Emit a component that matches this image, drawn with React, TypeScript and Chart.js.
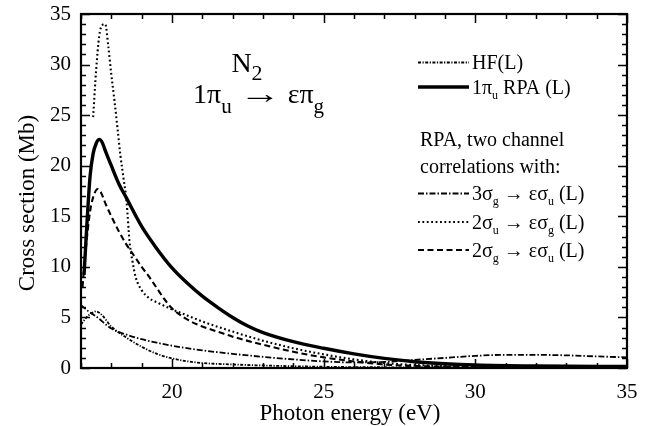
import React, { useEffect, useRef } from "react";
import { Chart, registerables } from "chart.js";

Chart.register(...registerables);

// ---- Data (photon energy in eV, cross section in Mb) ----
const hfE = [17.0, 17.1, 17.25, 17.4, 17.5, 17.7, 18.0, 18.5, 19.0, 19.5, 20.0, 20.8, 22.0, 23.0, 25.0, 28.0, 31.0, 35.0];
const hfV = [4.3, 4.7, 5.2, 5.5, 5.6, 5.2, 4.1, 3.0, 2.1, 1.4, 0.95, 0.55, 0.35, 0.25, 0.12, 0.06, 0.04, 0.03];

const rpaE = [17.1, 17.2, 17.3, 17.4, 17.5, 17.6, 17.7, 17.8, 18.0, 18.25, 18.5, 19.0, 19.5, 20.0, 20.5, 21.0, 21.5, 22.0, 22.5, 23.0, 24.0, 25.0, 26.0, 27.0, 28.0, 29.0, 30.0, 32.0, 35.0];
const rpaV = [9.2, 14.5, 19.0, 21.2, 22.2, 22.6, 22.3, 21.5, 20.0, 18.2, 16.8, 14.0, 11.8, 9.9, 8.4, 7.1, 6.0, 5.0, 4.15, 3.5, 2.6, 1.95, 1.4, 0.95, 0.62, 0.42, 0.3, 0.2, 0.15];

const s3gE = [17.0, 17.25, 17.5, 18.0, 18.5, 19.0, 19.5, 20.0, 21.0, 22.0, 23.0, 24.0, 25.0, 26.0, 27.0, 28.0, 29.0, 30.0, 31.0, 32.0, 33.0, 34.0, 35.0];
const s3gV = [6.2, 5.6, 5.1, 3.9, 3.3, 2.85, 2.5, 2.2, 1.75, 1.4, 1.1, 0.85, 0.65, 0.55, 0.6, 0.8, 1.0, 1.2, 1.3, 1.3, 1.25, 1.15, 1.05];

const s2uE = [17.4, 17.5, 17.6, 17.7, 17.8, 17.9, 18.0, 18.1, 18.2, 18.3, 18.4, 18.5, 18.6, 18.7, 18.8, 19.0, 19.25, 19.5, 20.0, 20.5, 21.0, 22.0, 23.0, 24.0, 25.0, 26.0, 27.0, 28.0, 30.0, 35.0];
const s2uV = [24.8, 29.5, 32.8, 33.9, 34.0, 31.8, 29.0, 26.5, 23.8, 21.0, 18.8, 16.5, 12.5, 10.5, 9.0, 7.7, 6.9, 6.5, 5.8, 5.2, 4.6, 3.6, 2.7, 1.95, 1.35, 0.85, 0.5, 0.3, 0.15, 0.1];

const s2gE = [17.05, 17.15, 17.3, 17.45, 17.55, 17.65, 17.8, 18.0, 18.25, 18.5, 18.75, 19.0, 19.25, 19.5, 19.75, 20.0, 20.5, 21.0, 21.5, 22.0, 23.0, 24.0, 25.0, 26.0, 27.0, 28.0, 30.0, 35.0];
const s2gV = [8.0, 11.5, 15.5, 17.3, 17.7, 17.4, 16.3, 15.0, 13.5, 12.2, 11.1, 10.0, 9.0, 7.9, 6.8, 5.9, 4.8, 4.1, 3.6, 3.1, 2.3, 1.6, 1.05, 0.65, 0.35, 0.2, 0.1, 0.05];

const xTickLabels = [20, 25, 30, 35];
const yTickLabels = [0, 5, 10, 15, 20, 25, 30, 35];
const xTitle = "Photon energy (eV)";
const yTitle = "Cross section (Mb)";

type Seg = { t: string; sub?: boolean; stretch?: number };
const legendTexts: Seg[][] = [
  [{ t: "HF(L)" }],
  [{ t: "1π" }, { t: "u", sub: true }, { t: " RPA (L)" }],
  [{ t: "3σ" }, { t: "g", sub: true }, { t: " → εσ" }, { t: "u", sub: true }, { t: " (L)" }],
  [{ t: "2σ" }, { t: "u", sub: true }, { t: " → εσ" }, { t: "g", sub: true }, { t: " (L)" }],
  [{ t: "2σ" }, { t: "g", sub: true }, { t: " → εσ" }, { t: "u", sub: true }, { t: " (L)" }],
];
const legendNote = ["RPA, two channel", "correlations with:"];
const titleLine1: Seg[] = [{ t: "N" }, { t: "2", sub: true }];
const titleLine2: Seg[] = [{ t: "1π" }, { t: "u", sub: true }, { t: " " }, { t: "→", stretch: 1.5 }, { t: " επ" }, { t: "g", sub: true }];

const FONT = '"Liberation Serif", "Times New Roman", serif';

const styles = [
  { width: 1.8, dash: [3, 1.5, 1.2, 1.5] }, // HF
  { width: 3.4, dash: [] as number[] }, // RPA
  { width: 1.8, dash: [6, 2, 1.5, 2] }, // 3sg
  { width: 2.1, dash: [1.8, 2.6] }, // 2su
  { width: 2.1, dash: [6, 3.5] }, // 2sg
];

function pts(e: number[], v: number[]) {
  return e.map((x, i) => ({ x, y: v[i] }));
}

function segW(ctx: CanvasRenderingContext2D, s: Seg, size: number, subSize: number) {
  ctx.font = `${s.sub ? subSize : size}px ${FONT}`;
  return ctx.measureText(s.t).width * (s.stretch || 1);
}

function segWidth(ctx: CanvasRenderingContext2D, segs: Seg[], size: number, subSize: number) {
  let w = 0;
  for (const s of segs) w += segW(ctx, s, size, subSize);
  return w;
}

function drawSegs(ctx: CanvasRenderingContext2D, segs: Seg[], x: number, y: number, size: number, subSize: number, subDy: number) {
  let cx = x;
  for (const s of segs) {
    const w = segW(ctx, s, size, subSize);
    if (s.stretch) {
      ctx.save();
      ctx.translate(cx, y);
      ctx.scale(s.stretch, 1);
      ctx.fillText(s.t, 0, 0);
      ctx.restore();
    } else {
      ctx.fillText(s.t, cx, s.sub ? y + subDy : y);
    }
    cx += w;
  }
}

export default function App() {
  const ref = useRef<HTMLCanvasElement | null>(null);
  useEffect(() => {
    if (!ref.current) return;
    const decor = {
      id: "decor",
      afterDraw(chart: any) {
        const { ctx, chartArea } = chart;
        const { left, right, top, bottom } = chartArea;
        const xs = chart.scales.x;
        const ys = chart.scales.y;
        ctx.save();
        ctx.strokeStyle = "#000";
        ctx.lineWidth = 1.5;
        ctx.beginPath();
        for (let v = 17; v <= 35; v++) {
          const px = Math.round(xs.getPixelForValue(v)) + 0.5;
          const len = v % 5 === 0 ? 9 : 5;
          ctx.moveTo(px, bottom);
          ctx.lineTo(px, bottom - len);
          ctx.moveTo(px, top);
          ctx.lineTo(px, top + len);
        }
        for (let v = 0; v <= 35; v++) {
          const py = Math.round(ys.getPixelForValue(v)) + 0.5;
          const len = v % 5 === 0 ? 9 : 5;
          ctx.moveTo(left, py);
          ctx.lineTo(left + len, py);
          ctx.moveTo(right, py);
          ctx.lineTo(right - len, py);
        }
        ctx.stroke();
        ctx.lineWidth = 2.2;
        ctx.strokeRect(left, top, right - left, bottom - top);

        ctx.fillStyle = "#000";
        // tick labels
        ctx.font = `21px ${FONT}`;
        ctx.textAlign = "center";
        ctx.textBaseline = "middle";
        for (const v of xTickLabels) {
          ctx.fillText(String(v), xs.getPixelForValue(v), bottom + 24);
        }
        ctx.textAlign = "right";
        for (const v of yTickLabels) {
          ctx.fillText(String(v), left - 10, ys.getPixelForValue(v));
        }
        // axis titles
        ctx.font = `23px ${FONT}`;
        ctx.textAlign = "center";
        ctx.fillText(xTitle, 350, 414);
        ctx.save();
        ctx.translate(28, 203);
        ctx.rotate(-Math.PI / 2);
        ctx.fillText(yTitle, 0, 0);
        ctx.restore();
        ctx.textAlign = "left";
        ctx.textBaseline = "alphabetic";

        // title
        const w1 = segWidth(ctx, titleLine1, 28, 22);
        drawSegs(ctx, titleLine1, 247 - w1 / 2, 72, 28, 22, 8);
        drawSegs(ctx, titleLine2, 193, 103, 28, 21, 10);

        // legend
        const lineX0 = 418;
        const lineX1 = 469;
        const textX = 472;
        const rows = [62.5, 87, 193.5, 222, 250];
        for (let i = 0; i < 5; i++) {
          const st = styles[i];
          ctx.lineWidth = st.width;
          ctx.setLineDash(st.dash);
          ctx.beginPath();
          ctx.moveTo(lineX0, rows[i]);
          ctx.lineTo(lineX1, rows[i]);
          ctx.stroke();
          ctx.setLineDash([]);
          drawSegs(ctx, legendTexts[i], textX, rows[i] + 6.5, 20, 12, 5);
        }
        ctx.font = `20px ${FONT}`;
        ctx.fillText(legendNote[0], 420, 146);
        ctx.fillText(legendNote[1], 420, 173);
        ctx.restore();
      },
    };

    const mk = (label: string, e: number[], v: number[], i: number) => ({
      label,
      data: pts(e, v),
      borderColor: "#000",
      backgroundColor: "#000",
      borderWidth: styles[i].width,
      borderDash: styles[i].dash,
      pointRadius: 0,
      fill: false,
      cubicInterpolationMode: "monotone" as const,
    });

    const chart = new Chart(ref.current, {
      type: "line",
      data: {
        datasets: [
          mk("HF(L)", hfE, hfV, 0),
          mk("1πu RPA (L)", rpaE, rpaV, 1),
          mk("3σg → εσu (L)", s3gE, s3gV, 2),
          mk("2σu → εσg (L)", s2uE, s2uV, 3),
          mk("2σg → εσu (L)", s2gE, s2gV, 4),
        ],
      },
      options: {
        responsive: false,
        animation: false,
        devicePixelRatio: 1,
        layout: { padding: { top: 14, right: 35, left: 0, bottom: 0 } },
        plugins: { legend: { display: false }, tooltip: { enabled: false } },
        scales: {
          x: {
            type: "linear",
            min: 17,
            max: 35,
            grid: { display: false, drawTicks: false },
            border: { display: false },
            ticks: { display: false },
            afterFit: (s: any) => {
              s.height = 58;
            },
          },
          y: {
            type: "linear",
            min: 0,
            max: 35,
            grid: { display: false, drawTicks: false },
            border: { display: false },
            ticks: { display: false },
            afterFit: (s: any) => {
              s.width = 81;
            },
          },
        },
      },
      plugins: [decor],
    } as any);
    return () => chart.destroy();
  }, []);

  return (
    <div style={{ position: "absolute", left: 0, top: 0, width: 662, height: 426, background: "#fff" }}>
      <canvas ref={ref} width={662} height={426} style={{ display: "block" }} />
    </div>
  );
}
